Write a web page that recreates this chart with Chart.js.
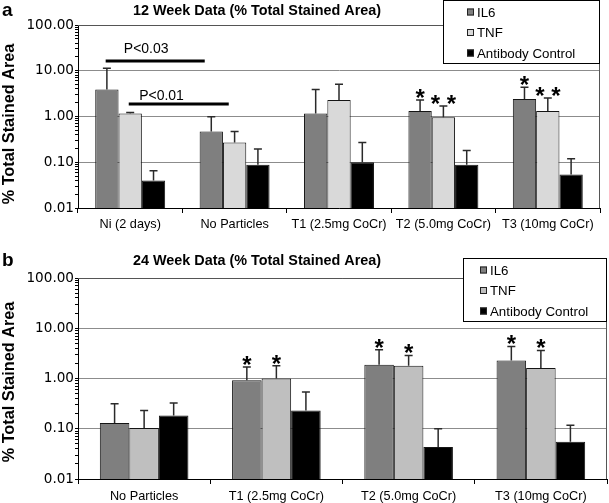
<!DOCTYPE html>
<html>
<head>
<meta charset="utf-8">
<script src="https://cdn.jsdelivr.net/npm/chart.js@4.4.1/dist/chart.umd.min.js"></script>
<style>
  html, body { margin: 0; padding: 0; background: #fff; }
  #wrap { position: relative; width: 609px; height: 503px; }
  .panel { position: absolute; left: 0; width: 609px; }
</style>
</head>
<body>
<div id="wrap">
  <div class="panel" style="top:0;height:250px"><canvas id="chartA"></canvas></div>
  <div class="panel" style="top:250px;height:253px"><canvas id="chartB"></canvas></div>
</div>
<script>
// panel a - 12 weeks
const categoriesA = ['Ni (2 days)', 'No Particles', 'T1 (2.5mg CoCr)', 'T2 (5.0mg CoCr)', 'T3 (10mg CoCr)'];
const il6A = [3.9, 0.47, 1.17, 1.32, 2.4];
const il6UpperA = [11.3, 0.99, 3.9, 2.3, 4.35];
const tnfA = [1.17, 0.27, 2.3, 0.96, 1.32];
const tnfUpperA = [1.22, 0.47, 5.1, 1.7, 2.55];
const abA = [0.04, 0.088, 0.10, 0.088, 0.054];
const abUpperA = [0.065, 0.195, 0.27, 0.18, 0.12];
const il6StarsA = ['', '', '', '*', '*'];
const tnfStarsA = ['', '', '', '* *', '* *'];
const bracketsA = [
    { label: 'P<0.03', from: -0.235, to: 0.714, y: 16.3, textX: 0.153, textY: 24.4 },
    { label: 'P<0.01', from: -0.014, to: 0.944, y: 1.88, textX: 0.30, textY: 2.29 }
];

// panel b - 24 weeks
const categoriesB = ['No Particles', 'T1 (2.5mg CoCr)', 'T2 (5.0mg CoCr)', 'T3 (10mg CoCr)'];
const il6B = [0.13, 0.92, 1.88, 2.29];
const il6UpperB = [0.315, 1.69, 3.74, 4.35];
const tnfB = [0.103, 1.0, 1.80, 1.62];
const tnfUpperB = [0.232, 1.80, 2.88, 3.62];
const abB = [0.184, 0.232, 0.0434, 0.0553];
const abUpperB = [0.325, 0.54, 0.10, 0.117];
const il6StarsB = ['', '*', '*', '*'];
const tnfStarsB = ['', '*', '*', '*'];

const seriesNames = ['IL6', 'TNF', 'Antibody Control'];
const FONT = 'Liberation Sans, Arial, sans-serif';

function isMajor(v) {
    const l = Math.log10(v);
    return Math.abs(l - Math.round(l)) < 1e-6;
}

// draws error bars, stars, brackets, titles and the boxed legend
const extras = {
    id: 'extras',
    afterDatasetsDraw(chart) {
        const ctx = chart.ctx;
        const yScale = chart.scales.y;
        ctx.save();
        chart.data.datasets.forEach((ds, i) => {
            const meta = chart.getDatasetMeta(i);
            meta.data.forEach((bar, j) => {
                const yErr = yScale.getPixelForValue(ds.upper[j]);
                ctx.strokeStyle = '#2a2a2a';
                ctx.lineWidth = 1.5;
                ctx.beginPath();
                ctx.moveTo(bar.x, bar.y);
                ctx.lineTo(bar.x, yErr);
                ctx.moveTo(bar.x - 4, yErr);
                ctx.lineTo(bar.x + 4, yErr);
                ctx.stroke();
                if (ds.stars && ds.stars[j]) {
                    ctx.fillStyle = '#000';
                    ctx.font = 'bold 24px ' + FONT;
                    ctx.textAlign = 'center';
                    ctx.textBaseline = 'alphabetic';
                    ctx.fillText(ds.stars[j], bar.x, yErr + 6);
                }
            });
        });
        ctx.restore();
    },
    afterDraw(chart, args, opts) {
        const ctx = chart.ctx;
        const area = chart.chartArea;
        const xScale = chart.scales.x;
        const yScale = chart.scales.y;
        const x0 = xScale.getPixelForValue(0);
        const step = xScale.getPixelForValue(1) - x0;
        ctx.save();

        // plot border (top + right)
        ctx.strokeStyle = '#555';
        ctx.lineWidth = 1;
        ctx.beginPath();
        ctx.moveTo(area.left, area.top + 0.5);
        ctx.lineTo(area.right - 0.5, area.top + 0.5);
        ctx.lineTo(area.right - 0.5, area.bottom);
        ctx.stroke();

        // significance lines
        (opts.brackets || []).forEach(b => {
            const y = yScale.getPixelForValue(b.y);
            ctx.strokeStyle = '#000';
            ctx.lineWidth = 3;
            ctx.beginPath();
            ctx.moveTo(x0 + b.from * step, y);
            ctx.lineTo(x0 + b.to * step, y);
            ctx.stroke();
            ctx.fillStyle = '#000';
            ctx.font = '14px ' + FONT;
            ctx.textAlign = 'center';
            ctx.textBaseline = 'alphabetic';
            ctx.fillText(b.label, x0 + b.textX * step, yScale.getPixelForValue(b.textY));
        });

        // panel letter and title
        ctx.fillStyle = '#000';
        ctx.textBaseline = 'middle';
        ctx.textAlign = 'left';
        ctx.font = 'bold 19px ' + FONT;
        ctx.fillText(opts.letter, 2, 11);
        ctx.textAlign = 'center';
        ctx.font = 'bold 14.4px ' + FONT;
        ctx.fillText(opts.title, 257, 11);

        // y axis title
        ctx.save();
        ctx.translate(10, opts.yTitleY);
        ctx.rotate(-Math.PI / 2);
        ctx.font = 'bold 16.3px ' + FONT;
        ctx.textAlign = 'center';
        ctx.textBaseline = 'middle';
        ctx.fillText('% Total Stained Area', 0, 0);
        ctx.restore();

        // legend box
        const lg = opts.legend;
        const lx = area.right - 1 - lg.w;
        const ly = area.top + lg.dy;
        ctx.fillStyle = '#fff';
        ctx.fillRect(lx, ly, lg.w, 63);
        ctx.strokeStyle = '#000';
        ctx.lineWidth = 1;
        ctx.strokeRect(lx + 0.5, ly + 0.5, lg.w, 63);
        chart.data.datasets.forEach((ds, i) => {
            const cy = ly + 12 + i * 20.5;
            const sx = lx + lg.sx;
            ctx.fillStyle = ds.backgroundColor;
            ctx.fillRect(sx, cy - 3.5, 7, 7);
            ctx.strokeStyle = '#222';
            ctx.strokeRect(sx + 0.5, cy - 3.5 + 0.5, 6, 6);
            ctx.fillStyle = '#000';
            ctx.font = '13.3px ' + FONT;
            ctx.textAlign = 'left';
            ctx.textBaseline = 'middle';
            ctx.fillText(ds.label, sx + 10, cy + 1);
        });
        ctx.restore();
    }
};

function makeChart(canvasId, cats, values, uppers, stars, tnfColor, cfg) {
    const colors = ['#7f7f7f', tnfColor, '#000000'];
    return new Chart(document.getElementById(canvasId), {
        type: 'bar',
        data: {
            labels: cats,
            datasets: values.map((v, i) => ({
                label: seriesNames[i],
                data: v,
                upper: uppers[i],
                stars: stars[i],
                backgroundColor: colors[i],
                borderColor: '#151515',
                borderWidth: 1,
                categoryPercentage: 0.67,
                barPercentage: 1
            }))
        },
        options: {
            responsive: true,
            maintainAspectRatio: false,
            animation: false,
            layout: { padding: { top: cfg.top, right: cfg.right, left: 0, bottom: 0 } },
            scales: {
                x: {
                    afterFit: s => { s.height = cfg.xHeight; },
                    grid: { offset: true, drawOnChartArea: false, tickLength: 5, tickColor: '#000' },
                    border: { color: '#000', width: 1 },
                    ticks: { font: { family: FONT, size: 12.7 }, color: '#000', padding: cfg.xPad, maxRotation: 0, autoSkip: false }
                },
                y: {
                    type: 'logarithmic',
                    min: 0.01,
                    max: 100,
                    afterFit: s => { s.width = 78; },
                    afterBuildTicks: s => {
                        const t = [];
                        for (let e = -2; e < 2; e++) {
                            for (let m = 1; m < 10; m++) t.push({ value: +(m * Math.pow(10, e)).toPrecision(6) });
                        }
                        t.push({ value: 100 });
                        s.ticks = t;
                    },
                    ticks: {
                        autoSkip: false,
                        font: { family: 'DejaVu Sans', size: 13.6 },
                        color: '#000',
                        padding: 1,
                        callback: v => isMajor(v) ? Number(v).toFixed(2) : ''
                    },
                    grid: {
                        color: c => isMajor(c.tick.value) ? '#8c8c8c' : 'rgba(0,0,0,0)',
                        tickColor: '#000',
                        tickLength: 3
                    },
                    border: { color: '#000', width: 1 }
                }
            },
            plugins: {
                legend: { display: false },
                title: { display: false },
                tooltip: { enabled: false },
                extras: cfg.extras
            }
        },
        plugins: [extras]
    });
}

makeChart('chartA', categoriesA,
    [il6A, tnfA, abA], [il6UpperA, tnfUpperA, abUpperA], [il6StarsA, tnfStarsA, null], '#d9d9d9',
    {
        top: 25, right: 9, xHeight: 42, xPad: 4,
        extras: {
            letter: 'a', title: '12 Week Data (% Total Stained Area)', yTitleY: 124,
            brackets: bracketsA, legend: { w: 156, dy: -25, sx: 24 }
        }
    });

makeChart('chartB', categoriesB,
    [il6B, tnfB, abB], [il6UpperB, tnfUpperB, abUpperB], [il6StarsB, tnfStarsB, null], '#bfbfbf',
    {
        top: 28, right: 2, xHeight: 24, xPad: 5,
        extras: {
            letter: 'b', title: '24 Week Data (% Total Stained Area)', yTitleY: 132,
            brackets: [], legend: { w: 143, dy: -20, sx: 17 }
        }
    });
</script>
</body>
</html>
